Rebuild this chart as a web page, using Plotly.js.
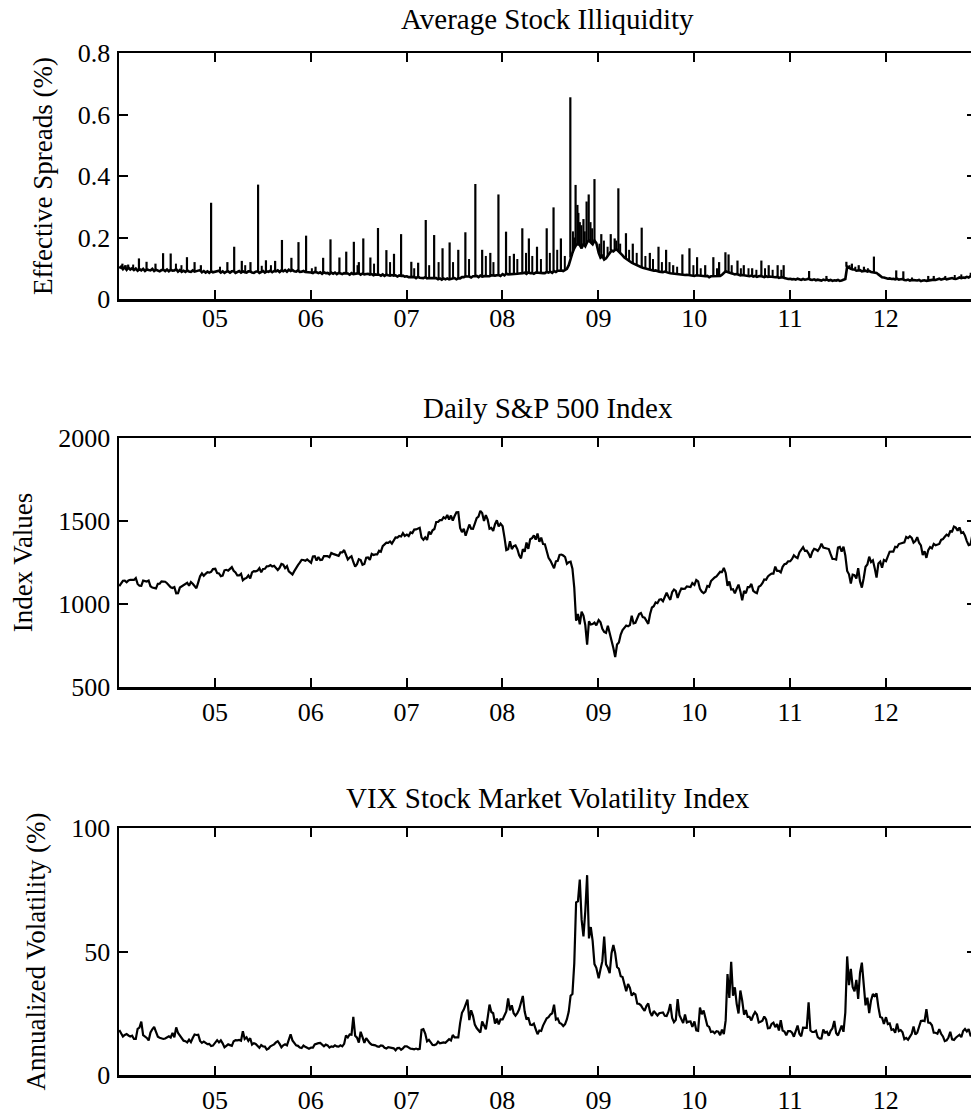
<!DOCTYPE html>
<html>
<head>
<meta charset="utf-8">
<script src="https://cdn.plot.ly/plotly-3.0.1.min.js"></script>
<style>
html, body { margin: 0; padding: 0; background: #fff; overflow: hidden; }
#chart { width: 985px; height: 1115px; }
</style>
</head>
<body>
<div id="chart"></div>
<script>
// Weekly samples, one row per year (2004..2012); 2012 runs to late November.
const years = [2004, 2005, 2006, 2007, 2008, 2009, 2010, 2011, 2012];
const weeksPerYear = [52, 52, 52, 52, 52, 52, 52, 52, 48];

// Average effective spreads (%), weekly baseline level
const spreadBase = [
  0.100,0.105,0.097,0.104,0.095, 0.102,0.096,0.100,0.094, 0.099,0.092,0.097,0.093, 0.098,0.091,0.096,0.094,0.093, 0.098,0.091,0.095,0.093, 0.090,0.094,0.095,0.091, 0.096,0.090,0.095,0.092,0.093, 0.097,0.089,0.094,0.088, 0.092,0.088,0.093,0.089, 0.088,0.093,0.089,0.090,0.091, 0.094,0.087,0.091,0.086, 0.090,0.085,0.090,0.087,
  0.088,0.091,0.092,0.086,0.090, 0.085,0.089,0.090,0.086, 0.090,0.091,0.085,0.089, 0.091,0.086,0.090,0.087, 0.086,0.090,0.090,0.086,0.085, 0.089,0.090,0.085,0.089, 0.091,0.086,0.090,0.088,0.092, 0.087,0.091,0.090,0.093, 0.088,0.093,0.090,0.094, 0.089,0.095,0.091,0.094,0.090, 0.089,0.093,0.088,0.089, 0.091,0.088,0.088,0.086,
  0.086,0.084,0.088,0.087,0.084, 0.087,0.082,0.087,0.084, 0.085,0.081,0.086,0.082, 0.086,0.081,0.085,0.082, 0.081,0.084,0.083,0.083,0.079, 0.084,0.081,0.082,0.081, 0.084,0.079,0.083,0.080,0.080, 0.082,0.079,0.081,0.077, 0.080,0.079,0.079,0.076, 0.080,0.075,0.079,0.077,0.076, 0.078,0.076,0.077,0.073, 0.077,0.075,0.076,0.073,
  0.074,0.071,0.071,0.071,0.072, 0.068,0.072,0.069,0.069, 0.068,0.071,0.067,0.068, 0.068,0.067,0.067,0.068, 0.064,0.067,0.063,0.067,0.064, 0.067,0.064,0.065,0.065, 0.068,0.064,0.067,0.067,0.071, 0.071,0.074,0.073,0.073, 0.070,0.074,0.074,0.075, 0.071,0.076,0.073,0.075,0.075, 0.074,0.074,0.077,0.076, 0.076,0.077,0.078,0.075,
  0.081,0.077,0.083,0.080,0.080, 0.081,0.082,0.082,0.082, 0.083,0.083,0.084,0.086, 0.082,0.087,0.084,0.085,0.082, 0.086,0.085,0.085,0.085, 0.084,0.084,0.088,0.086, 0.089,0.085,0.091,0.088,0.092, 0.092,0.093,0.091,0.095, 0.098,0.110,0.135,0.150, 0.165,0.175,0.180,0.175,0.165, 0.180,0.172,0.185,0.190, 0.185,0.178,0.190,0.182,
  0.150,0.135,0.140,0.128,0.132, 0.140,0.150,0.158,0.155, 0.160,0.160,0.155,0.150, 0.142,0.135,0.130,0.128, 0.122,0.118,0.115,0.112,0.108, 0.105,0.104,0.102,0.100, 0.098,0.096,0.095,0.094,0.092, 0.093,0.090,0.089,0.088, 0.087,0.089,0.086,0.085, 0.084,0.083,0.083,0.082,0.081, 0.080,0.079,0.079,0.078, 0.079,0.078,0.077,0.076,
  0.075,0.077,0.076,0.075,0.074, 0.074,0.074,0.075,0.071, 0.074,0.074,0.075,0.074, 0.074,0.075,0.079,0.085, 0.090,0.088,0.087,0.084,0.082, 0.080,0.081,0.079,0.077, 0.078,0.077,0.076,0.075,0.074, 0.076,0.073,0.075,0.072, 0.074,0.075,0.073,0.071, 0.074,0.072,0.073,0.072,0.070, 0.071,0.072,0.069,0.070, 0.071,0.068,0.066,0.065,
  0.066,0.064,0.065,0.063,0.066, 0.064,0.062,0.065,0.063, 0.064,0.066,0.063,0.062, 0.064,0.061,0.063,0.062, 0.060,0.063,0.061,0.063,0.060, 0.062,0.059,0.061,0.060, 0.062,0.059,0.060,0.062,0.065, 0.105,0.100,0.098,0.096, 0.096,0.092,0.094,0.094, 0.090,0.092,0.092,0.089,0.091, 0.088,0.087,0.086,0.085, 0.080,0.074,0.071,0.070,
  0.068,0.066,0.067,0.065,0.066, 0.064,0.066,0.063,0.064, 0.065,0.062,0.061,0.063, 0.060,0.062,0.061,0.059,0.060, 0.062,0.058,0.060,0.061, 0.059,0.060,0.062,0.061, 0.063,0.062,0.064,0.066,0.063, 0.065,0.067,0.064,0.066, 0.068,0.068,0.066,0.065, 0.067,0.070,0.068,0.070,0.069, 0.072,0.070,0.074,0.078
];

// One-day spikes in effective spreads (%): the taller ones
const spikeDates = [
  '2004-01-14','2004-02-05','2004-03-17','2004-04-15','2004-05-19','2004-06-17','2004-07-16','2004-09-16','2004-10-15','2004-11-08','2004-12-17',
  '2005-02-17','2005-03-15','2005-04-13','2005-05-16','2005-06-14','2005-07-14','2005-08-18','2005-09-13','2005-10-19','2005-11-15','2005-12-14',
  '2006-01-19','2006-02-17','2006-03-17','2006-04-20','2006-05-16','2006-06-14','2006-07-03','2006-07-20','2006-08-16','2006-09-14','2006-10-16','2006-11-14','2006-12-11',
  '2007-01-19','2007-02-14','2007-03-15','2007-04-16','2007-05-18','2007-06-14','2007-07-17','2007-08-13','2007-09-20','2007-10-16','2007-11-16','2007-12-17',
  '2008-01-15','2008-02-14','2008-03-17','2008-04-11','2008-05-12','2008-06-18','2008-07-14','2008-08-11','2008-09-16','2008-10-06','2008-10-13','2008-10-22','2008-11-05','2008-11-17','2008-11-25','2008-12-17',
  '2009-01-12','2009-02-17','2009-03-04','2009-03-18','2009-04-16','2009-05-12','2009-06-15','2009-07-16','2009-08-18','2009-09-16','2009-10-13','2009-11-17','2009-12-14',
  '2010-01-12','2010-02-12','2010-03-15','2010-04-06','2010-04-30','2010-05-12','2010-06-15','2010-07-09','2010-08-10','2010-09-14','2010-10-12','2010-11-15','2010-12-08',
  '2011-03-15','2011-05-20','2011-08-04','2011-08-25','2011-09-20','2011-10-10','2011-11-17',
  '2012-02-10','2012-03-08','2012-06-11','2012-07-02','2012-11-20'
];
const spikeTops = [
  0.115,0.112,0.132,0.121,0.115,0.149,0.148,0.136,0.120,0.110,0.313,
  0.120,0.170,0.124,0.120,0.372,0.126,0.124,0.192,0.134,0.185,0.206,
  0.105,0.134,0.194,0.135,0.154,0.186,0.120,0.197,0.135,0.231,0.159,0.147,0.211,
  0.121,0.118,0.257,0.208,0.165,0.184,0.160,0.217,0.374,0.160,0.150,0.340,
  0.219,0.147,0.230,0.197,0.170,0.230,0.298,0.197,0.656,0.371,0.306,0.250,0.260,0.317,0.340,0.390,
  0.211,0.211,0.197,0.360,0.214,0.180,0.232,0.150,0.170,0.160,0.110,0.145,0.165,
  0.136,0.110,0.136,0.120,0.152,0.145,0.125,0.110,0.100,0.125,0.110,0.110,0.110,
  0.091,0.075,0.121,0.115,0.110,0.105,0.138,
  0.093,0.090,0.075,0.075,0.085
];
// Smaller one-day spikes in effective spreads (%)
const minorSpikeDates = [
  '2004-01-27','2004-02-24','2004-08-05','2004-08-26',
  '2005-01-20','2005-04-26','2005-06-28','2005-08-02',
  '2006-01-05','2006-06-28','2006-08-30','2006-10-30',
  '2007-01-30','2007-03-28','2007-05-03','2007-06-27','2007-08-27','2007-10-30','2007-11-28',
  '2008-01-29','2008-02-27','2008-03-31','2008-04-24','2008-05-27','2008-06-30','2008-07-28','2008-08-26',
  '2008-09-26','2008-10-01','2008-10-17','2008-10-28','2008-11-10','2008-12-02','2008-12-08',
  '2009-01-05','2009-01-22','2009-02-05','2009-03-10','2009-03-25',
  '2009-04-28','2009-05-27','2009-06-29','2009-07-28','2009-08-31','2009-09-29','2009-10-28','2009-12-29',
  '2010-01-26','2010-03-29','2010-05-24','2010-06-28','2010-07-27','2010-08-26','2010-09-28','2010-10-27','2010-11-29',
  '2011-08-16','2011-09-07','2011-10-25','2011-12-05',
  '2012-04-10','2012-08-15','2012-09-20','2012-10-15'
];
const minorSpikeTops = [
  0.110,0.112,0.115,0.110,
  0.105,0.110,0.108,0.110,
  0.100,0.110,0.115,0.120,
  0.100,0.110,0.120,0.120,0.130,0.140,0.120,
  0.140,0.130,0.150,0.140,0.130,0.150,0.160,0.140,
  0.220,0.200,0.280,0.240,0.220,0.250,0.230,
  0.180,0.190,0.170,0.190,0.180,
  0.160,0.150,0.140,0.130,0.120,0.120,0.105,0.110,
  0.100,0.100,0.110,0.100,0.100,0.095,0.100,0.095,0.095,
  0.110,0.105,0.100,0.080,
  0.070,0.075,0.078,0.080
];

// Daily S&P 500 index (weekly readings)
const spx = [
  1108,1122,1140,1141,1131, 1142,1146,1145,1145, 1156,1121,1110,1109, 1141,1139,1135,1141,1107, 1099,1095,1094,1121, 1122,1136,1135,1134, 1125,1112,1101,1096,1102, 1064,1065,1099,1107, 1114,1123,1128,1110, 1132,1122,1108,1095,1130, 1167,1184,1170,1182, 1191,1189,1194,1210,
  1212,1186,1184,1168,1171, 1203,1206,1201,1211, 1222,1200,1190,1172, 1172,1182,1143,1152, 1157,1172,1154,1190,1198, 1197,1201,1216,1191, 1211,1212,1227,1228,1234, 1226,1230,1219,1205, 1218,1241,1237,1216, 1228,1196,1187,1178,1198, 1220,1234,1249,1266, 1265,1260,1268,1260,
  1248,1286,1288,1262,1283, 1265,1267,1289,1289, 1288,1282,1307,1302, 1297,1295,1290,1311, 1311,1325,1292,1268,1280, 1288,1253,1225,1240, 1270,1265,1236,1241,1279, 1280,1266,1302,1295, 1299,1299,1321,1315, 1349,1361,1369,1368,1377, 1364,1380,1401,1400, 1410,1407,1427,1410,
  1418,1409,1431,1427,1448, 1449,1456,1459,1400, 1387,1402,1386,1436, 1420,1444,1452,1494, 1495,1505,1505,1522,1515, 1536,1509,1533,1503, 1530,1552,1553,1458,1433, 1453,1411,1445,1479, 1454,1453,1484,1517, 1526,1561,1548,1500,1535, 1509,1453,1458,1440, 1481,1504,1467,1484,
  1468,1401,1325,1330,1378, 1331,1349,1353,1331, 1294,1275,1330,1315, 1370,1332,1390,1397,1413, 1388,1425,1375,1400, 1361,1360,1318,1278, 1262,1239,1215,1257,1260, 1296,1298,1292,1283, 1242,1252,1255,1213, 1099,899,940,877,954, 930,873,755,896, 876,879,888,872,
  903,890,850,832,826, 869,827,770,735, 680,756,768,816, 843,857,870,866, 873,929,883,887,919, 940,946,921,918, 896,880,940,979,987, 1010,1005,1026,1029, 1017,1042,1068,1044, 1025,1071,1087,1079,1036, 1069,1093,1091,1092, 1106,1102,1102,1126,
  1115,1144,1136,1091,1074, 1066,1075,1109,1104, 1138,1150,1160,1166, 1178,1194,1192,1217, 1187,1110,1136,1087,1089, 1064,1092,1117,1076, 1022,1078,1065,1102,1102, 1121,1079,1071,1065, 1104,1110,1125,1148, 1146,1166,1176,1183,1183, 1225,1199,1199,1190, 1224,1240,1243,1257,
  1258,1271,1293,1283,1276, 1311,1329,1343,1320, 1321,1304,1279,1314, 1332,1328,1320,1337, 1363,1340,1338,1333,1331, 1300,1271,1271,1268, 1340,1344,1316,1345,1292, 1199,1179,1123,1177, 1174,1154,1216,1136, 1099,1155,1224,1238,1285, 1253,1263,1216,1159, 1244,1255,1219,1265,
  1258,1289,1315,1316,1316, 1345,1342,1361,1365, 1370,1371,1404,1397, 1408,1398,1370,1379,1403, 1369,1353,1295,1318, 1278,1325,1343,1335, 1362,1354,1357,1362,1386, 1391,1405,1418,1411, 1438,1437,1466,1460, 1441,1461,1428,1433,1412, 1379,1355,1359,1416
];

// VIX index (%)
const vix = [
  18.2,16.8,15.6,16.2,16.6, 16.0,15.6,15.9,14.6, 14.6,18.7,19.2,21.6, 16.1,15.6,15.0,14.0,17.2, 18.5,19.5,17.5,15.5, 15.1,14.8,14.6,14.8, 15.2,15.7,15.2,17.0,15.3, 19.3,17.0,15.9,14.7, 13.9,13.7,13.2,14.3, 13.3,15.0,16.4,16.2,16.3, 13.8,13.0,13.5,13.1, 12.5,12.6,11.7,11.9,
  13.3,14.1,13.2,14.0,12.8, 11.2,11.8,12.4,12.1, 11.8,13.7,14.1,14.0, 14.2,13.9,17.7,14.6, 15.3,13.8,14.9,12.3,12.9, 12.6,11.8,11.0,12.1, 11.6,11.5,10.3,10.7,11.6, 12.0,12.4,13.2,13.7, 12.6,11.2,12.0,12.4, 12.0,14.8,16.5,14.0,13.2, 12.0,11.8,11.1,10.9, 11.9,11.4,10.9,10.6,
  11.1,11.1,12.4,12.8,12.9, 13.0,12.1,11.6,12.3, 12.0,11.1,11.6,11.4, 12.0,11.6,11.5,12.0, 11.6,12.6,16.0,15.2,16.4, 16.3,23.5,15.9,15.1, 13.1,17.5,15.3,13.0,14.9, 13.7,12.9,12.3,12.3, 12.0,11.6,11.4,12.0, 11.8,11.0,10.7,11.3,11.1, 10.8,10.8,10.0,10.9, 11.0,10.2,10.8,11.6,
  11.6,11.0,10.7,10.6,10.4, 10.7,10.4,10.6,18.3, 18.6,16.8,13.6,14.2, 13.2,12.2,12.1,12.4, 13.5,12.8,13.0,13.2,13.0, 13.9,14.5,14.0,16.2, 15.2,15.2,15.2,21.0,25.2, 26.5,29.0,30.5,22.2, 26.2,24.0,20.4,19.0, 18.0,17.2,21.7,20.4,18.5, 23.2,28.5,25.5,25.0, 20.8,22.8,20.5,22.5,
  22.5,23.9,25.7,31.0,26.2, 28.2,25.0,24.0,25.0, 26.6,29.1,32.0,25.7, 22.5,23.3,20.4,20.2,20.8, 18.6,16.5,18.0,17.8, 20.0,21.9,23.0,23.4, 24.5,25.0,28.5,22.5,22.9, 21.1,20.7,19.8,20.6, 22.6,25.7,32.1,32.8, 45.1,69.9,70.3,79.1,62.9, 56.1,66.3,80.9,55.3, 59.9,54.3,44.9,43.4,
  39.2,42.8,46.1,56.0,44.8, 43.4,41.2,49.3,52.6, 49.3,43.7,43.0,40.0, 39.7,36.5,33.9,36.8, 35.3,32.1,33.1,32.6,28.9, 28.8,28.2,27.0,26.0, 27.9,29.0,25.4,23.9,25.9, 24.8,24.1,25.0,25.3, 25.3,24.0,23.9,25.6, 28.7,23.1,21.4,22.3,30.7, 24.2,22.7,21.0,24.5, 21.3,21.6,21.7,19.5,
  21.7,18.1,17.9,27.3,24.6, 26.1,22.7,20.0,19.5, 17.4,17.6,16.9,17.7, 17.5,16.1,18.4,16.6, 22.1,40.9,31.2,45.8,32.1, 35.5,28.8,24.9,34.2, 30.1,24.4,26.3,23.5,23.5, 22.1,24.1,25.5,24.5, 21.3,21.6,22.0,23.7, 22.5,18.9,19.0,20.7,21.2, 19.4,20.6,18.0,22.2, 18.0,17.6,16.1,17.8,
  17.8,17.1,15.5,17.5,20.0, 16.7,15.7,19.2,19.0, 19.1,29.4,18.0,17.4, 17.4,17.9,15.3,14.7, 14.8,18.4,17.1,17.5,15.9, 17.9,18.9,21.9,17.0, 16.0,17.9,20.0,17.5,25.3, 48.0,36.4,43.0,35.6, 33.9,38.5,30.8,41.3, 45.5,36.2,28.2,31.3,25.1, 30.2,32.8,32.0,33.0, 27.5,23.5,23.2,20.7,
  23.4,20.6,20.9,18.3,18.5, 17.1,20.8,17.8,18.2, 17.3,14.5,15.0,14.3, 15.5,16.7,19.6,16.4,17.1, 19.2,21.9,22.0,21.8, 26.7,21.2,21.1,20.1, 17.1,17.1,16.7,18.6,16.7, 15.6,13.7,14.0,15.2, 17.5,14.4,14.2,15.1, 15.7,16.3,15.3,17.8,18.6, 17.6,18.6,16.0,15.9
];

// Tick labels
const xTickVals = ['2005-01-01','2006-01-01','2007-01-01','2008-01-01','2009-01-01','2010-01-01','2011-01-01','2012-01-01'];
const xTickText = ['05','06','07','08','09','10','11','12'];
const spreadTicks = [0, 0.2, 0.4, 0.6, 0.8];
const spreadTickText = ['0', '0.2', '0.4', '0.6', '0.8'];
const spxTicks = [500, 1000, 1500, 2000];
const vixTicks = [0, 50, 100];

const panelTitles = ['Average Stock Illiquidity', 'Daily S&P 500 Index', 'VIX Stock Market Volatility Index'];
const yTitles = ['Effective Spreads (%)', 'Index Values', 'Annualized Volatility (%)'];

// Build the date index from the year/week structure
const dates = [];
const dateMs = [];
years.forEach((y, k) => {
  for (let w = 0; w < weeksPerYear[k]; w++) {
    const d = new Date(Date.UTC(y, 0, 2 + 7 * w));
    dates.push(d.toISOString().slice(0, 10));
    dateMs.push(d.getTime());
  }
});

// Spikes as vertical needles rising from the baseline reading of their week
function needles(ds, tops) {
  const xs = [], ys = [];
  ds.forEach((s, i) => {
    const t = Date.parse(s);
    let best = 0;
    for (let j = 1; j < dateMs.length; j++) {
      if (Math.abs(dateMs[j] - t) < Math.abs(dateMs[best] - t)) best = j;
    }
    xs.push(s, s, null);
    ys.push(spreadBase[best], tops[i], null);
  });
  return { xs, ys };
}
const major = needles(spikeDates, spikeTops);
const minor = needles(minorSpikeDates, minorSpikeTops);

const lineStyle = { color: '#000', width: 2.2 };
const traces = [
  { x: dates, y: spreadBase, type: 'scatter', mode: 'lines', line: { color: '#000', width: 2.6 }, xaxis: 'x', yaxis: 'y', hoverinfo: 'skip' },
  { x: major.xs, y: major.ys, type: 'scatter', mode: 'lines', line: { color: '#000', width: 2.2 }, connectgaps: false, xaxis: 'x', yaxis: 'y', hoverinfo: 'skip' },
  { x: minor.xs, y: minor.ys, type: 'scatter', mode: 'lines', line: { color: '#000', width: 2.0 }, connectgaps: false, xaxis: 'x', yaxis: 'y', hoverinfo: 'skip' },
  { x: dates, y: spx, type: 'scatter', mode: 'lines', line: lineStyle, xaxis: 'x2', yaxis: 'y2', hoverinfo: 'skip' },
  { x: dates, y: vix, type: 'scatter', mode: 'lines', line: lineStyle, xaxis: 'x3', yaxis: 'y3', hoverinfo: 'skip' }
];

const H = 1115;
const frac = (px) => 1 - px / H;
const FONT = '"Liberation Serif", "Times New Roman", Times, serif';

function xAxis(anchor, standoff) {
  return {
    type: 'date', range: ['2004-01-01', '2012-12-10'], anchor: anchor,
    tickvals: xTickVals, ticktext: xTickText,
    ticks: 'inside', ticklen: 9, tickwidth: 2, tickcolor: '#000',
    showline: true, linewidth: 2.5, linecolor: '#000', mirror: 'ticks',
    showgrid: false, zeroline: false, fixedrange: true,
    tickfont: { family: FONT, size: 26, color: '#000' },
    ticklabelstandoff: standoff
  };
}
function yAxis(dom, range, vals, text, title, anchor) {
  return {
    domain: dom, range: range, anchor: anchor,
    tickvals: vals, ticktext: text,
    ticks: 'inside', ticklen: 9, tickwidth: 2, tickcolor: '#000',
    showline: true, linewidth: 2.5, linecolor: '#000', mirror: 'ticks',
    showgrid: false, zeroline: false, fixedrange: true,
    tickfont: { family: FONT, size: 26, color: '#000' },
    ticklabelstandoff: 1,
    title: { text: title, font: { family: FONT, size: 27, color: '#000' }, standoff: 18 }
  };
}

const domTop = [frac(299), frac(53)];
const domMid = [frac(687), frac(438)];
const domBot = [frac(1075), frac(828)];

const titleFont = { family: FONT, size: 29, color: '#000' };
const layout = {
  width: 985, height: H,
  margin: { l: 119, r: 9, t: 0, b: 0, pad: 0 },
  paper_bgcolor: '#fff', plot_bgcolor: '#fff',
  showlegend: false,
  font: { family: FONT, color: '#000' },
  xaxis: xAxis('y', -6),
  xaxis2: xAxis('y2', 0),
  xaxis3: xAxis('y3', 0),
  yaxis: yAxis(domTop, [0, 0.8], spreadTicks, spreadTickText, yTitles[0], 'x'),
  yaxis2: yAxis(domMid, [500, 2000], spxTicks, spxTicks.map(String), yTitles[1], 'x2'),
  yaxis3: yAxis(domBot, [0, 100], vixTicks, vixTicks.map(String), yTitles[2], 'x3'),
  annotations: [
    { text: panelTitles[0], xref: 'paper', yref: 'paper', x: 0.5, y: frac(19), xanchor: 'center', yanchor: 'middle', showarrow: false, font: titleFont },
    { text: panelTitles[1], xref: 'paper', yref: 'paper', x: 0.5, y: frac(408), xanchor: 'center', yanchor: 'middle', showarrow: false, font: titleFont },
    { text: panelTitles[2], xref: 'paper', yref: 'paper', x: 0.5, y: frac(798), xanchor: 'center', yanchor: 'middle', showarrow: false, font: titleFont }
  ]
};

Plotly.newPlot('chart', traces, layout, { staticPlot: true, displayModeBar: false });
</script>
</body>
</html>
